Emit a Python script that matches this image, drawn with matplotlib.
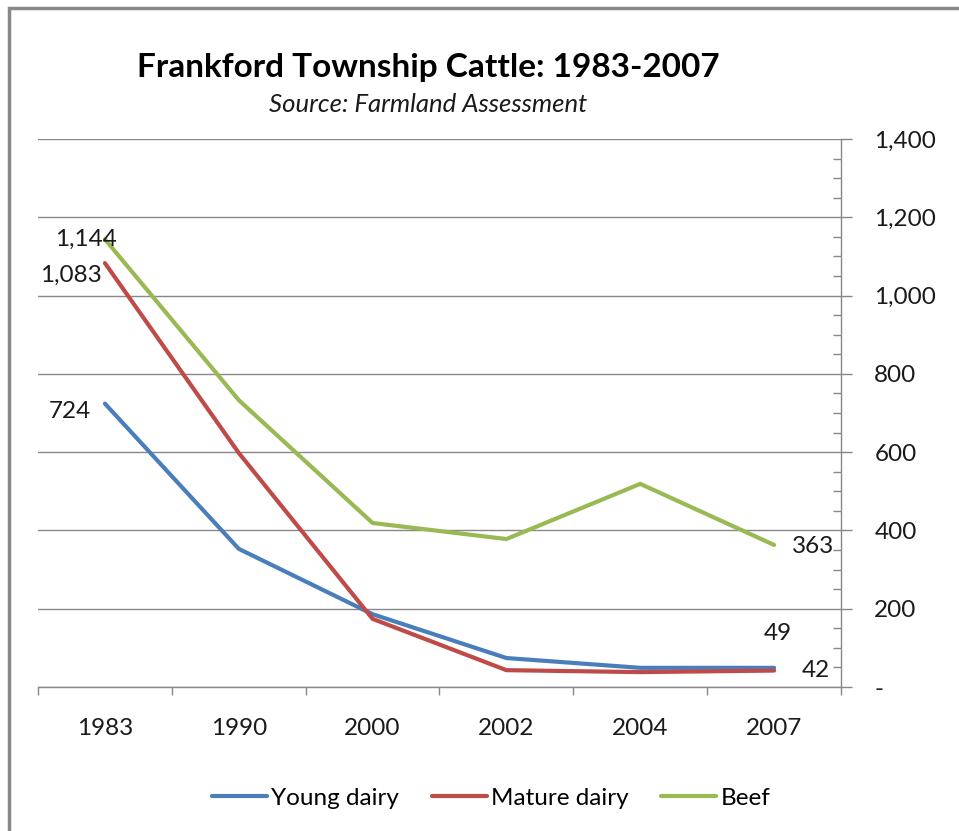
import matplotlib.pyplot as plt
from matplotlib.ticker import FuncFormatter, MultipleLocator
from matplotlib.patches import Rectangle

years = ['1983', '1990', '2000', '2002', '2004', '2007']
young_dairy = [724, 353, 186, 74, 49, 49]
mature_dairy = [1083, 598, 174, 43, 38, 42]
beef = [1144, 733, 419, 378, 519, 363]

plt.rcParams['font.family'] = ['Lato', 'DejaVu Sans']
FS = 17.5

fig = plt.figure(figsize=(9.59, 8.31), dpi=100)
ax = fig.add_axes([38 / 959, 1 - 687 / 831, (841 - 38) / 959, (687 - 139) / 831])

x = range(len(years))
ax.plot(x, young_dairy, color='#4A7EBB', lw=3, label='Young dairy', solid_capstyle='round')
ax.plot(x, mature_dairy, color='#BE4B48', lw=3, label='Mature dairy', solid_capstyle='round')
ax.plot(x, beef, color='#98B954', lw=3, label='Beef', solid_capstyle='round')

# value labels at the ends of each series
lab = dict(fontsize=FS, color='#1a1a1a')
ax.annotate(f'{beef[0]:,}', (0, beef[0]), xytext=(9, 0), textcoords='offset points',
            ha='right', va='center', **lab)
ax.annotate(f'{mature_dairy[0]:,}', (0, mature_dairy[0]), xytext=(-2, -9), textcoords='offset points',
            ha='right', va='center', **lab)
ax.annotate(f'{young_dairy[0]:,}', (0, young_dairy[0]), xytext=(-10, -6), textcoords='offset points',
            ha='right', va='center', **lab)
ax.annotate(f'{beef[-1]:,}', (5, beef[-1]), xytext=(13, -1), textcoords='offset points',
            ha='left', va='center', **lab)
ax.annotate(f'{young_dairy[-1]:,}', (5, young_dairy[-1]), xytext=(3, 25), textcoords='offset points',
            ha='center', va='center', **lab)
ax.annotate(f'{mature_dairy[-1]:,}', (5, mature_dairy[-1]), xytext=(20, 0), textcoords='offset points',
            ha='left', va='center', **lab)

ax.set_xlim(-0.5, 5.5)
ax.set_ylim(0, 1400)
ax.set_xticks([i - 0.5 for i in range(7)])
ax.set_xticklabels([])
ax.set_xticks(list(x), minor=True)
ax.set_xticklabels(years, minor=True)
ax.tick_params(axis='x', which='major', direction='out', length=6, color='#888888', width=1)
ax.tick_params(axis='x', which='minor', length=0, pad=22, labelsize=FS, labelcolor='#1a1a1a')

ax.yaxis.tick_right()
ax.yaxis.set_major_locator(MultipleLocator(200))
ax.yaxis.set_minor_locator(MultipleLocator(50))
ax.yaxis.set_major_formatter(FuncFormatter(lambda v, p: '-' if v == 0 else f'{int(v):,}'))
ax.tick_params(axis='y', which='major', direction='out', length=8, color='#888888', width=1,
               pad=16, labelsize=FS, labelcolor='#1a1a1a')
ax.tick_params(axis='y', which='minor', direction='in', length=6, color='#888888', width=1)
for t in ax.yaxis.get_majorticklabels():
    t.set_horizontalalignment('left')

ax.grid(axis='y', which='major', color='#888888', lw=1)
ax.set_axisbelow(True)
for s in ['top', 'left']:
    ax.spines[s].set_visible(False)
for s in ['bottom', 'right']:
    ax.spines[s].set_color('#888888')
    ax.spines[s].set_linewidth(1)

fig.text(428 / 959, 1 - 68 / 831, 'Frankford Township Cattle: 1983-2007', ha='center', va='center',
         fontsize=24, fontweight='bold')
fig.text(428 / 959, 1 - 104 / 831, 'Source: Farmland Assessment', ha='center', va='center',
         fontsize=18.5, style='italic', color='#1a1a1a')

fig.legend(loc='center', bbox_to_anchor=(491 / 959, 1 - 798 / 831), ncol=3, frameon=False,
           fontsize=FS, handlelength=2.26, handletextpad=0.17, columnspacing=1.36)

# outer chart border
fig.add_artist(Rectangle((9 / 959, -0.1), 1.2, 1 - 8 / 831 + 0.1, transform=fig.transFigure,
                         fill=False, edgecolor='#888888', lw=2.5))

fig.savefig('out.png', dpi=100)
